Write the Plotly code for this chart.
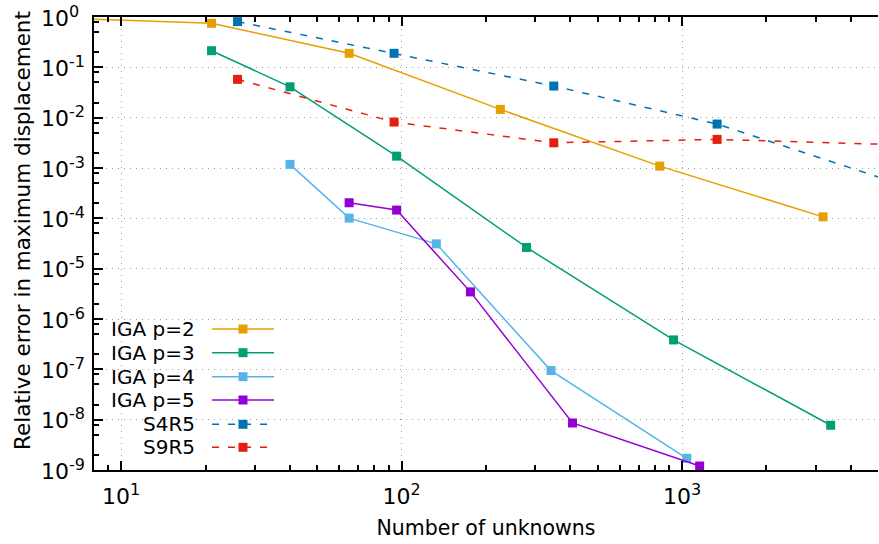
import math
import plotly.graph_objects as go

# ---- data ----
names = ["IGA p=2", "IGA p=3", "IGA p=4", "IGA p=5", "S4R5", "S9R5"]
x_p2 = [8, 21, 65, 225, 833, 3185]
y_p2 = [0.9, 0.75, 0.19, 0.0146, 1.09e-3, 1.07e-4]
x_p3 = [21, 40, 96, 279, 933, 3390]
y_p3 = [0.214, 0.041, 1.72e-3, 2.64e-5, 3.84e-7, 7.74e-9]
x_p4 = [40, 65, 133, 341, 1040]
y_p4 = [1.18e-3, 1.01e-4, 3.11e-5, 9.46e-8, 1.71e-9]
x_p5 = [65, 96, 176, 407, 1156]
y_p5 = [2.04e-4, 1.46e-4, 3.46e-6, 8.6e-9, 1.2e-9]
x_s4 = [26, 94, 349, 1334, 5200]
y_s4 = [0.81, 0.19, 0.0425, 7.46e-3, 6.2e-4]
x_s9 = [26, 94, 349, 1334, 5200]
y_s9 = [0.0577, 8.18e-3, 3.17e-3, 3.7e-3, 2.96e-3]

SUP = "<sup><span style='font-size:16px'>%s</span></sup>"
x_major = [10, 100, 1000]
x_major_text = ["10" + SUP % "1", "10" + SUP % "2", "10" + SUP % "3"]
y_major = [10.0 ** -k for k in range(9, -1, -1)]
y_major_text = ["10" + SUP % str(-k) for k in range(9, -1, -1)]
x_minor = [9] + [m * d for d in (10, 100) for m in range(2, 10)] + [2000, 3000, 4000]
y_minor = [m * 10.0 ** -k for k in range(1, 10) for m in (2, 5, 8)]

x_title = "Number of unknowns"
y_title = "Relative error in maximum displacement"

colors = ["#e69f00", "#009e73", "#56b4e9", "#9400d3", "#0072b2", "#e51e10"]
dashes = ["solid", "solid", "solid", "solid", "7px,9px", "7px,9px"]
series = [(x_p2, y_p2), (x_p3, y_p3), (x_p4, y_p4), (x_p5, y_p5), (x_s4, y_s4), (x_s9, y_s9)]

FONT = "DejaVu Sans"
W, H = 879, 544
L, R, T, B = 94, 1, 17, 74
PW, PH = W - L - R, H - T - B

fig = go.Figure()
for i, ((xs, ys), name) in enumerate(zip(series, names)):
    fig.add_trace(go.Scatter(
        x=xs, y=ys, name=name, mode="lines+markers",
        line=dict(color=colors[i], width=1.5, dash=dashes[i]),
        marker=dict(symbol="square", size=9, color=colors[i], line=dict(width=0)),
        cliponaxis=(i >= 4), showlegend=False))

def px(xp):
    return (xp - L) / PW

def py(yp):
    return (H - B - yp) / PH

# custom gnuplot-style legend (text right-aligned, sample to its right)
row_y = [329, 352.7, 376.7, 400, 424.3, 447.3]
shapes = []
annotations = []
for i, name in enumerate(names):
    yy = py(row_y[i])
    annotations.append(dict(x=px(197), y=yy, xref="paper", yref="paper", text=name,
                            showarrow=False, xanchor="right", yanchor="middle",
                            font=dict(family=FONT, size=20, color="black")))
    shapes.append(dict(type="line", xref="paper", yref="paper", x0=px(212), x1=px(274), y0=yy, y1=yy,
                       line=dict(color=colors[i], width=1.5, dash=dashes[i])))
    shapes.append(dict(type="rect", xref="paper", yref="paper",
                       x0=px(243 - 4.5), x1=px(243 + 4.5), y0=py(row_y[i] + 4.5), y1=py(row_y[i] - 4.5),
                       fillcolor=colors[i], line=dict(width=0)))

tick_font = dict(family=FONT, size=22, color="black")

# y tick labels (gnuplot lays them out starting at a common left edge)
for v, t in zip(y_major, y_major_text):
    annotations.append(dict(x=px(39), y=math.log10(v), xref="paper", yref="y", text=t,
                            showarrow=False, xanchor="left", yanchor="middle", yshift=1,
                            font=tick_font))

# y-axis title placed like gnuplot's
annotations.append(dict(x=px(22), y=py(231), xref="paper", yref="paper", text=y_title,
                        textangle=-90, showarrow=False, xanchor="center", yanchor="middle",
                        font=dict(family=FONT, size=21.5, color="black")))

fig.update_layout(
    width=W, height=H,
    margin=dict(l=L, r=R, t=T, b=B, pad=0),
    paper_bgcolor="white", plot_bgcolor="white",
    font=dict(family=FONT, size=20, color="black"),
    shapes=shapes, annotations=annotations,
    xaxis=dict(type="log", range=[0.90309, 3.69897],
               tickvals=x_major, ticktext=x_major_text, tickfont=tick_font,
               ticks="inside", ticklen=9, tickwidth=1.5, tickcolor="black",
               showline=True, linecolor="black", linewidth=2, mirror="allticks",
               showgrid=True, gridcolor="#a0a0a0", gridwidth=1, griddash="1px,5px",
               zeroline=False, ticklabelstandoff=6,
               minor=dict(tickvals=x_minor, ticks="inside", ticklen=5, tickwidth=1.5,
                          tickcolor="black", showgrid=False),
               title=dict(text=x_title, font=dict(family=FONT, size=20.5, color="black"), standoff=12)),
    yaxis=dict(type="log", range=[-9, 0],
               tickvals=y_major, showticklabels=False,
               ticks="inside", ticklen=9, tickwidth=1.5, tickcolor="black",
               showline=True, linecolor="black", linewidth=2, mirror=False,
               showgrid=True, gridcolor="#a0a0a0", gridwidth=1, griddash="1px,5px",
               zeroline=False,
               minor=dict(tickvals=y_minor, ticks="inside", ticklen=5, tickwidth=1.5,
                          tickcolor="black", showgrid=False)),
    yaxis2=dict(type="log", range=[-9, 0], overlaying="y", side="right",
                tickvals=y_major, showticklabels=False,
                ticks="inside", ticklen=6, tickwidth=1.5, tickcolor="black",
                showline=True, linecolor="black", linewidth=2,
                showgrid=False, zeroline=False),
)

fig.write_html("out.html")
